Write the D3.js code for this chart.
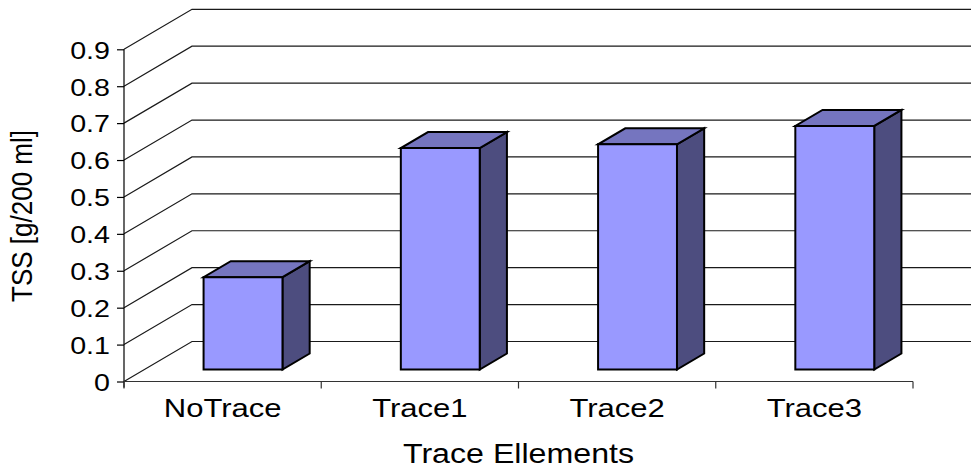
<!DOCTYPE html>
<html>
<head>
<meta charset="utf-8">
<script src="https://cdn.jsdelivr.net/npm/d3@7"></script>
<style>
  html, body { margin: 0; padding: 0; background: #fff; }
  svg { display: block; font-family: "Liberation Sans", Arial, sans-serif; }
</style>
</head>
<body>
<svg id="chart" width="971" height="468"></svg>
<script>
// Total suspended solids per trace-element treatment
const categories = ["NoTrace", "Trace1", "Trace2", "Trace3"];
const tssValues = [0.25, 0.60, 0.61, 0.66];
const yTickValues = [0, 0.1, 0.2, 0.3, 0.4, 0.5, 0.6, 0.7, 0.8, 0.9];
const yTickLabels = ["0", "0.1", "0.2", "0.3", "0.4", "0.5", "0.6", "0.7", "0.8", "0.9"];
const xTitle = "Trace Ellements";
const yTitle = "TSS [g/200 ml]";

const W = 971, H = 468;
const plotLeft = 124, plotRight = 913, plotBottom = 381.5, plotTop = 49.3;
const depth = { dx: 68, dy: -40 };        // oblique offset of the back wall
const barFront = 0.3, barBack = 0.7;       // bar position within the depth
const textScaleX = 1.17;

const svg = d3.select("#chart");

const x = d3.scaleBand().domain(categories).range([plotLeft, plotRight]).padding(0);
const y = d3.scaleLinear().domain([0, 0.9]).range([plotBottom, plotTop]);

// Back wall gridlines: a diagonal from the value axis, then across the wall
const grid = svg.append("g").attr("class", "grid");
grid.selectAll("path")
  .data(yTickValues)
  .join("path")
  .attr("d", v => {
    const y0 = y(v);
    return `M${plotLeft},${y0} L${plotLeft + depth.dx},${y0 + depth.dy} L${W + 20},${y0 + depth.dy}`;
  })
  .attr("fill", "none")
  .attr("stroke", "#1a1a1a")
  .attr("stroke-width", 1.2);

// Value axis
const yAxis = d3.axisLeft(y)
  .tickValues(yTickValues)
  .tickFormat((d, i) => yTickLabels[i])
  .tickSize(7)
  .tickSizeOuter(0)
  .tickPadding(7);

const gy = svg.append("g").attr("transform", `translate(${plotLeft},0)`).call(yAxis);
gy.select(".domain").attr("stroke", "#000").attr("stroke-width", 1.2)
  .attr("d", `M0,${plotTop}V${plotBottom + 6}`);
gy.selectAll(".tick line").attr("stroke", "#000").attr("stroke-width", 1.2);
gy.selectAll(".tick text")
  .attr("font-size", 24.5)
  .attr("fill", "#000")
  .attr("dy", "0.36em")
  .attr("x", -14 / textScaleX)
  .attr("transform", `scale(${textScaleX},1)`);

// Category axis along the front floor edge
const xAxis = d3.axisBottom(x).tickSize(0).tickPadding(0);
const gx = svg.append("g").attr("transform", `translate(0,${plotBottom})`).call(xAxis);
gx.select(".domain").attr("stroke", "#333").attr("stroke-width", 1.2)
  .attr("d", `M${plotLeft},0H${plotRight}`);
gx.selectAll(".tick text").remove();

// Tick marks at category boundaries
const boundaries = categories.map(c => x(c)).concat([x(categories[categories.length - 1]) + x.bandwidth()]);
gx.selectAll("line.boundary")
  .data(boundaries)
  .join("line")
  .attr("class", "boundary")
  .attr("x1", d => d).attr("x2", d => d)
  .attr("y1", 0).attr("y2", 7)
  .attr("stroke", "#333").attr("stroke-width", 1.2);

// Category labels
svg.append("g").selectAll("text")
  .data(categories)
  .join("text")
  .attr("transform", c => `translate(${x(c) + x.bandwidth() / 2},417) scale(${textScaleX},1)`)
  .attr("text-anchor", "middle")
  .attr("font-size", 26.5)
  .attr("fill", "#000")
  .text(c => c);

// 3D bars
const barW = x.bandwidth() * 0.4;
const fdx = depth.dx * barFront, fdy = depth.dy * barFront;
const bdx = depth.dx * (barBack - barFront), bdy = depth.dy * (barBack - barFront);

const bars = svg.append("g").selectAll("g")
  .data(categories.map((c, i) => ({ c, v: tssValues[i] })))
  .join("g");

function geom(d) {
  const x0 = x(d.c) + x.bandwidth() / 2 - barW / 2 + fdx;
  const x1 = x0 + barW;
  const yb = y(0) + fdy;
  const yt = y(d.v) + fdy;
  return { x0, x1, yb, yt };
}

bars.append("path") // side
  .attr("d", d => {
    const g = geom(d);
    return `M${g.x1},${g.yt} L${g.x1 + bdx},${g.yt + bdy} L${g.x1 + bdx},${g.yb + bdy} L${g.x1},${g.yb} Z`;
  })
  .attr("fill", "#4d4d7f").attr("stroke", "#000").attr("stroke-width", 2).attr("stroke-linejoin", "miter");

bars.append("path") // top
  .attr("d", d => {
    const g = geom(d);
    return `M${g.x0},${g.yt} L${g.x1},${g.yt} L${g.x1 + bdx},${g.yt + bdy} L${g.x0 + bdx},${g.yt + bdy} Z`;
  })
  .attr("fill", "#7575bf").attr("stroke", "#000").attr("stroke-width", 2).attr("stroke-linejoin", "miter");

bars.append("path") // front
  .attr("d", d => {
    const g = geom(d);
    return `M${g.x0},${g.yt} L${g.x1},${g.yt} L${g.x1},${g.yb} L${g.x0},${g.yb} Z`;
  })
  .attr("fill", "#9999ff").attr("stroke", "#000").attr("stroke-width", 2).attr("stroke-linejoin", "miter");

// Axis titles
svg.append("text")
  .attr("transform", `translate(${(plotLeft + plotRight) / 2},463) scale(${textScaleX},1)`)
  .attr("text-anchor", "middle")
  .attr("font-size", 27.5)
  .attr("fill", "#000")
  .text(xTitle);

svg.append("text")
  .attr("transform", `translate(31.5,216) scale(${textScaleX},1) rotate(-90)`)
  .attr("text-anchor", "middle")
  .attr("font-size", 26)
  .attr("fill", "#000")
  .text(yTitle);
</script>
</body>
</html>
